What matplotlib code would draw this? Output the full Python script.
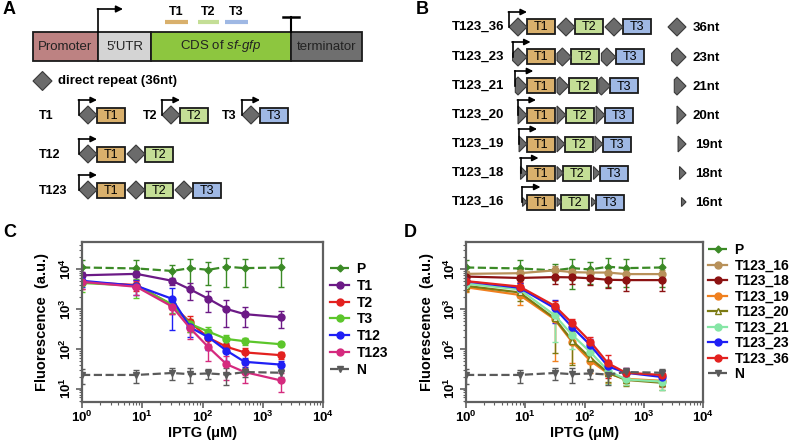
import matplotlib
matplotlib.use('Agg')
import matplotlib.pyplot as plt
from matplotlib.patches import Rectangle, Polygon
from matplotlib.lines import Line2D
from matplotlib.ticker import LogLocator, NullFormatter, FixedLocator

plt.rcParams['font.family'] = ['Liberation Sans', 'DejaVu Sans']
plt.rcParams['mathtext.fontset'] = 'custom'
plt.rcParams['mathtext.rm'] = 'Liberation Sans'
plt.rcParams['mathtext.bf'] = 'Liberation Sans:bold'
plt.rcParams['mathtext.it'] = 'Liberation Sans:italic'

# ---- data: IPTG dose response (C, D) ----
iptg = [1, 8, 31.25, 62.5, 125, 250, 500, 2000]

c_names = ['P', 'T1', 'T2', 'T3', 'T12', 'T123', 'N']
c_mean = {
    'P':    [11000, 10400, 9000, 10600, 9600, 11500, 10600, 11000],
    'T1':   [7000, 7600, 5100, 3100, 1800, 1000, 740, 620],
    'T2':   [4700, 4000, 1260, 460, 190, 112, 81, 69],
    'T3':   [4500, 3800, 1300, 420, 270, 176, 155, 130],
    'T12':  [5100, 3800, 1800, 345, 195, 90, 47, 40],
    'T123': [4800, 3600, 1150, 325, 110, 41, 26, 16],
    'N':    [22, 22, 24.6, 23, 24, 22.5, 26, 25],
}
c_err = {
    'P':    [6000, 6500, 4000, 7500, 5500, 8000, 7000, 7500],
    'T1':   [1500, 1200, 1000, 1400, 950, 650, 380, 280],
    'T2':   [1500, 1200, 500, 200, 60, 30, 25, 15],
    'T3':   [1800, 1900, 500, 150, 80, 50, 30, 15],
    'T12':  [1500, 1500, 1500, 150, 100, 40, 12, 10],
    'T123': [1700, 1400, 400, 150, 60, 25, 12, 8],
    'N':    [9, 8, 8, 9, 7, 10, 6, 6],
}

d_names = ['P', 'T123_16', 'T123_18', 'T123_19', 'T123_20', 'T123_21', 'T123_23', 'T123_36', 'N']
d_mean = {
    'P':       [11000, 10400, 9300, 10600, 9800, 11500, 10600, 11000],
    'T123_16': [7600, 7900, 9300, 8400, 8200, 8200, 7500, 7500],
    'T123_18': [6500, 6000, 6300, 6200, 5900, 5400, 5300, 5300],
    'T123_19': [3500, 2250, 550, 145, 50, 24, 17.5, 15.7],
    'T123_20': [3800, 2600, 580, 158, 59, 25, 16.5, 14],
    'T123_21': [4300, 3100, 700, 220, 83, 28, 17, 15],
    'T123_23': [4900, 3400, 1050, 345, 124, 36, 25, 19.6],
    'T123_36': [5000, 3650, 1200, 435, 152, 43, 25, 22],
    'N':       [22, 22, 24.6, 23, 24, 22.5, 26, 25],
}
d_err = {
    'P':       [6000, 6500, 4000, 7500, 5500, 8000, 7000, 7500],
    'T123_16': [1500, 1500, 3000, 2500, 2500, 2500, 2000, 2000],
    'T123_18': [2000, 1500, 2000, 2000, 2000, 2000, 2500, 2500],
    'T123_19': [800, 1000, 500, 100, 25, 10, 5, 5],
    'T123_20': [900, 1000, 500, 120, 30, 10, 5, 5],
    'T123_21': [900, 1200, 550, 120, 40, 15, 5, 6],
    'T123_23': [1000, 1200, 600, 150, 50, 15, 8, 8],
    'T123_36': [1000, 1000, 400, 120, 50, 25, 8, 8],
    'N':       [9, 8, 8, 9, 7, 10, 6, 6],
}

styles = {
    'P':       dict(color='#3b8a26', marker='D', ms=3.5, ls='--'),
    'N':       dict(color='#5a5a5a', marker='v', ms=4.5, ls='--'),
    'T1':      dict(color='#6c1a86', marker='o', ms=5, ls='-'),
    'T2':      dict(color='#e3211f', marker='o', ms=5, ls='-'),
    'T3':      dict(color='#5cc62b', marker='o', ms=5, ls='-'),
    'T12':     dict(color='#1f1ff5', marker='o', ms=5, ls='-'),
    'T123':    dict(color='#d52a7e', marker='o', ms=5, ls='-'),
    'T123_16': dict(color='#b8915a', marker='o', ms=5, ls='-'),
    'T123_18': dict(color='#8c1212', marker='o', ms=5, ls='-'),
    'T123_19': dict(color='#f0801f', marker='o', ms=5, ls='-'),
    'T123_20': dict(color='#7b7a12', marker='^', ms=5, ls='-', mfc='white'),
    'T123_21': dict(color='#86e6a6', marker='o', ms=5, ls='-'),
    'T123_23': dict(color='#1f1ff5', marker='o', ms=5, ls='-'),
    'T123_36': dict(color='#e3211f', marker='o', ms=5, ls='-'),
}

# ---- schematic (A, B) ----
box_colors = {'T1': '#d9b06c', 'T2': '#c4de96', 'T3': '#9fb8e4'}
a_rows = [('T1', ['T1']), ('T12', ['T1', 'T2']), ('T123', ['T1', 'T2', 'T3'])]
b_rows = [36, 23, 21, 20, 19, 18, 16]
# left cut of the repeat diamond for each truncated repeat length
repeat_cut = {36: -1.0, 23: -0.6, 21: -0.3, 20: 0.0, 19: 0.12, 18: 0.28, 16: 0.5}

EDGE = '#1a1a1a'
REP = '#6b6b6b'


def repeat_shape(ax, x_right, yc, nt, s=9):
    c = repeat_cut[nt]
    if c < 0:
        pts = [(c, -(1 + c)), (0, -1), (1, 0), (0, 1), (c, 1 + c)]
    else:
        pts = [(c, -(1 - c)), (1, 0), (c, 1 - c)]
    # right tip sits at x_right
    pts = [(x_right - s + px * s, yc + py * s) for px, py in pts]
    ax.add_patch(Polygon(pts, closed=True, fc=REP, ec='#3a3a3a', lw=0.8, zorder=3))
    return x_right - s * (1 - c)


def part_box(ax, x0, yc, name, w=28, h=15):
    ax.add_patch(Rectangle((x0, yc - h / 2), w, h, fc=box_colors[name], ec=EDGE, lw=1.3, zorder=2))
    ax.text(x0 + w / 2, yc + 0.5, name, ha='center', va='center', fontsize=9, zorder=4)
    return x0 + w


def promoter(ax, x, yc, rise=15, length=18):
    ax.plot([x, x], [yc, yc - rise], color='black', lw=1.2, zorder=5)
    ax.annotate('', xy=(x + length, yc - rise), xytext=(x - 0.6, yc - rise),
                arrowprops=dict(arrowstyle='-|>', color='black', lw=1.2, mutation_scale=9,
                                shrinkA=0, shrinkB=0), zorder=5)


def construct(ax, x_first_box, yc, parts, nt, gap=2):
    left = repeat_shape(ax, x_first_box, yc, nt)
    promoter(ax, left, yc)
    x = x_first_box
    for i, p in enumerate(parts):
        if i > 0:
            rw = 18 * (1 - repeat_cut[nt]) / 2
            repeat_shape(ax, x + gap + rw, yc, nt)
            x = x + gap + rw
        x = part_box(ax, x, yc, p)


fig = plt.figure(figsize=(7.89, 4.44), dpi=100)
sk = fig.add_axes([0, 0, 1, 1])
sk.set_xlim(0, 789)
sk.set_ylim(444, 0)
sk.axis('off')

bold = dict(fontweight='bold')
sk.text(3, 9, 'A', fontsize=13, va='center', **bold)
sk.text(416, 10, 'B', fontsize=13, va='center', **bold)
sk.text(3, 232, 'C', fontsize=13, va='center', **bold)
sk.text(404, 232, 'D', fontsize=13, va='center', **bold)

# gene cassette in A
segments = [('Promoter', 33, 98, '#bd8282'), ("5′UTR", 98, 151, '#d4d4d4'),
            ('CDS of $\\it{sf}$-$\\it{gfp}$', 151, 291, '#8dc63f'),
            ('terminator', 291, 362, '#6f6f6f')]
for lab, x0, x1, col in segments:
    sk.add_patch(Rectangle((x0, 32), x1 - x0, 29, fc=col, ec=EDGE, lw=1.3))
    sk.text((x0 + x1) / 2, 46.5, lab, ha='center', va='center', fontsize=9.5, color='#222222')
sk.plot([98, 98], [32, 9], color='black', lw=1.2)
sk.annotate('', xy=(123, 9), xytext=(97.4, 9),
            arrowprops=dict(arrowstyle='-|>', color='black', lw=1.2, mutation_scale=10, shrinkA=0, shrinkB=0))
sk.plot([291, 291], [32, 17], color='black', lw=1.5)
sk.plot([283, 299], [17, 17], color='black', lw=1.8)
for name, x0, x1 in [('T1', 165, 188), ('T2', 198, 219), ('T3', 225, 248)]:
    sk.plot([x0, x1], [22.5, 22.5], color=box_colors[name], lw=3, solid_capstyle='butt')
    sk.text((x0 + x1) / 2, 12, name, ha='center', va='center', fontsize=9, **bold)

repeat_shape(sk, 52, 81, 36, s=9.5)
sk.text(58, 81, 'direct repeat (36nt)', va='center', fontsize=9.5, **bold)

# single-spacer constructs
for lab, xl, xb, part in [('T1', 39, 97, 'T1'), ('T2', 143, 180, 'T2'), ('T3', 222, 260, 'T3')]:
    sk.text(xl, 116, lab, va='center', fontsize=9, **bold)
    construct(sk, xb, 115, [part], 36)
for (lab, parts), yc in zip(a_rows[1:], [154, 190]):
    sk.text(39, yc + 1, lab, va='center', fontsize=9, **bold)
    construct(sk, 97, yc, parts, 36)

# truncated repeat series in B
b_y = [27, 57, 86, 115, 144, 173, 202]
for nt, yc in zip(b_rows, b_y):
    sk.text(452, yc, 'T123_%d' % nt, va='center', fontsize=9.5, **bold)
    construct(sk, 527, yc, ['T1', 'T2', 'T3'], nt)
    repeat_shape(sk, 686, yc, nt)
    sk.text(693 if nt >= 20 else 695, yc + 1, '%dnt' % nt, va='center', fontsize=9.5, **bold)


# ---- plots ----
def style_axes(ax):
    ax.set_xscale('log')
    ax.set_yscale('log')
    ax.set_xlim(1, 1e4)
    ax.set_ylim(4.6, 4.8e4)
    ax.xaxis.set_major_locator(FixedLocator([1, 10, 100, 1000, 10000]))
    ax.set_xticklabels(['$\\mathbf{10^{%d}}$' % i for i in range(5)])
    ax.yaxis.set_major_locator(FixedLocator([10, 100, 1000, 10000]))
    ax.set_yticklabels(['$\\mathbf{10^{%d}}$' % i for i in range(1, 5)], rotation=90, va='center')
    for axis in (ax.xaxis, ax.yaxis):
        axis.set_minor_locator(LogLocator(base=10, subs=range(2, 10), numticks=20))
        axis.set_minor_formatter(NullFormatter())
    for sp in ax.spines.values():
        sp.set_color('#606060')
        sp.set_linewidth(1.6)
    ax.tick_params(which='major', direction='out', length=4, width=1.2, color='#606060',
                   labelsize=9.5, pad=1.5)
    ax.tick_params(which='minor', direction='out', length=2.5, width=0.8, color='#606060')
    ax.set_xlabel('IPTG (μM)', fontsize=10.5, fontweight='bold')
    ax.set_ylabel('Fluorescence  (a.u.)', fontsize=10.5, fontweight='bold')
    ax.xaxis.set_label_coords(0.5, -0.15)
    ax.yaxis.set_label_coords(-0.135, 0.5)


def plot_panel(ax, names, means, errs, legend_xy, spacing):
    handles = []
    for n in names:
        st = dict(styles[n])
        col = st.pop('color')
        ls = st.pop('ls')
        ax.errorbar(iptg, means[n], yerr=errs[n], color=col, lw=1.6, ls=ls, capsize=2.5,
                    elinewidth=1, capthick=1, **st)
        handles.append(Line2D([], [], color=col, lw=1.6, ls=ls, label=n, **st))
    style_axes(ax)
    ax.legend(handles=handles, loc='upper left', bbox_to_anchor=legend_xy,
              bbox_transform=fig.transFigure, frameon=False,
              prop={'weight': 'bold', 'size': 10}, handlelength=1.4, handletextpad=0.5,
              labelspacing=spacing, borderaxespad=0, borderpad=0)


ax_c = fig.add_axes([82 / 789, 42 / 444, 241 / 789, 160 / 444])
plot_panel(ax_c, c_names, c_mean, c_err, (330 / 789, 1 - 262 / 444), 0.2)

ax_d = fig.add_axes([466 / 789, 42 / 444, 237 / 789, 160 / 444])
plot_panel(ax_d, d_names, d_mean, d_err, (708 / 789, 1 - 243 / 444), 0.11)

fig.savefig('out.png', dpi=100)
